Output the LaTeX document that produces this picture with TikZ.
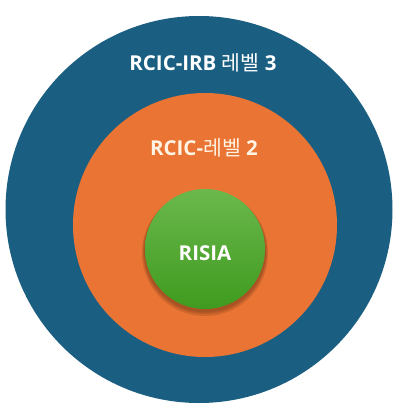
\documentclass[tikz,border=0pt]{standalone}
\usepackage{fontspec}
\setmainfont{Open Sans}
\newfontfamily\kofont{Noto Sans CJK KR}
\definecolor{outerblue}{HTML}{1A5F82}
\definecolor{midorange}{HTML}{E97433}
\definecolor{greentop}{HTML}{6BB84C}
\definecolor{greenbot}{HTML}{3F9B1F}
\definecolor{cream}{HTML}{FFF3E3}
\tikzset{
  ring/.style={circle, inner sep=0pt},
  lbl/.style={font=\fontsize{20.5}{22}\selectfont\bfseries, text=white, inner sep=0pt},
  softshadow/.style={fill=black!60!midorange, opacity=0.18},
}
\begin{document}
\begin{tikzpicture}[x=1pt,y=-1pt]
\useasboundingbox (0,0) rectangle (400,408);
\fill[white] (0,0) rectangle (400,408);
\node[ring, fill=outerblue, minimum size=387pt] (outer) at (199,209.5) {};
\node[ring, fill=midorange, minimum size=264pt] (mid) at (205,225) {};
\fill[softshadow] (205,253) circle (63pt);
\fill[softshadow] (205,252) circle (62pt);
\fill[softshadow] (205,251.5) circle (61pt);
\node[ring, top color=greentop, bottom color=greenbot, minimum size=120pt] (inner) at (205,249) {};
\node[lbl] (t3) at (203,63) {RCIC-IRB {\kofont\mdseries 레벨} 3};
\node[lbl, text=cream] (t2) at (204,148) {RCIC-{\kofont\mdseries 레벨} 2};
\node[lbl] (t1) at (205,253) {RISIA};
\end{tikzpicture}
\end{document}
